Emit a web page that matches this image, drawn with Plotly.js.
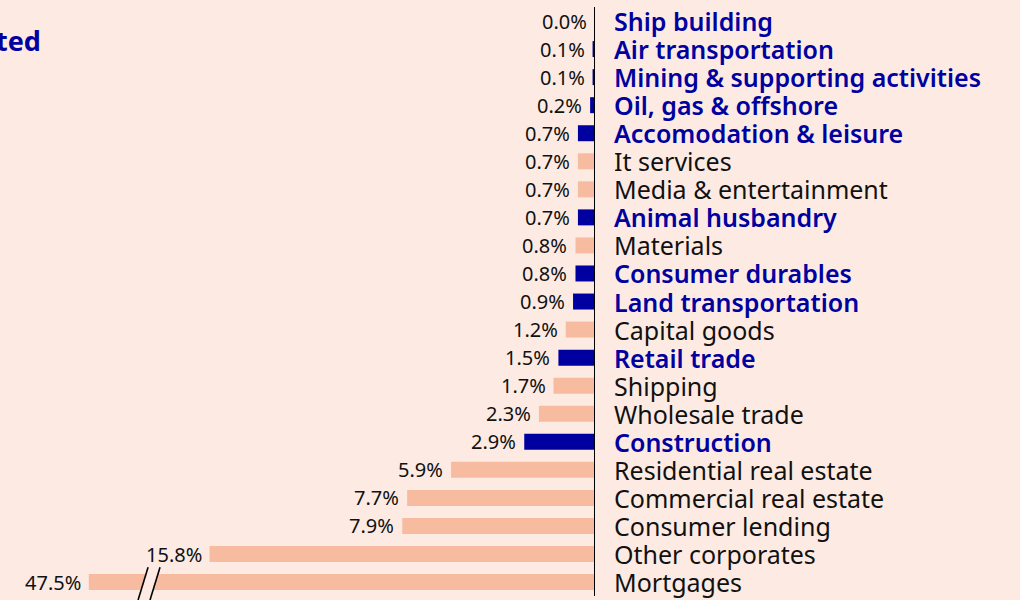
<!DOCTYPE html>
<html>
<head>
<meta charset="utf-8">
<script src="https://cdn.plot.ly/plotly-3.0.1.min.js"></script>
<style>html,body{margin:0;padding:0;background:#fdebe3;}</style>
</head>
<body>
<div id="chart" style="width:1020px;height:600px;"></div>
<script>
const categories = ["Ship building","Air transportation","Mining & supporting activities","Oil, gas & offshore","Accomodation & leisure","It services","Media & entertainment","Animal husbandry","Materials","Consumer durables","Land transportation","Capital goods","Retail trade","Shipping","Wholesale trade","Construction","Residential real estate","Commercial real estate","Consumer lending","Other corporates","Mortgages"];
const values = [0.0,0.1,0.1,0.2,0.7,0.7,0.7,0.7,0.8,0.8,0.9,1.2,1.5,1.7,2.3,2.9,5.9,7.7,7.9,15.8,47.5];
const highlighted = [true,true,true,true,true,false,false,true,false,true,true,false,true,false,false,true,false,false,false,false,false];
const valueLabels = ["0.0%","0.1%","0.1%","0.2%","0.7%","0.7%","0.7%","0.7%","0.8%","0.8%","0.9%","1.2%","1.5%","1.7%","2.3%","2.9%","5.9%","7.7%","7.9%","15.8%","47.5%"];
const titleText = "ted";
const breakCap = 20.75; // bars longer than this are drawn truncated with a break mark

const BG = "#fdebe3", SALMON = "#f7bb9f", BLUE = "#0000a0";
const FONT = "Noto Sans, sans-serif";
const shown = values.map(v => Math.min(v, breakCap));
const ys = categories.map((c, i) => i);

const trace = {
  type: "bar", orientation: "h",
  x: shown, y: ys, width: 0.57,
  marker: {color: highlighted.map(h => h ? BLUE : SALMON)},
  hoverinfo: "skip"
};

const annotations = [];
categories.forEach((c, i) => {
  annotations.push({
    x: 0, y: i, xref: "x", yref: "y", text: c,
    xanchor: "left", yanchor: "middle", xshift: 17, showarrow: false,
    font: {family: FONT, size: 25, weight: highlighted[i] ? 600 : 400, color: highlighted[i] ? BLUE : "#111111"}
  });
  annotations.push({
    x: shown[i], y: i, xref: "x", yref: "y", text: valueLabels[i],
    xanchor: "right", yanchor: "middle", xshift: -6, showarrow: false,
    font: {family: FONT, size: 20, color: "#111111"}
  });
});
annotations.push({
  x: 43/595, y: 0.944, xref: "paper", yref: "paper", text: titleText,
  xanchor: "right", yanchor: "middle", showarrow: false,
  font: {family: FONT, size: 27, weight: 700, color: BLUE}
});

const shapes = [];
values.forEach((v, i) => {
  if (v > breakCap) {
    const x1 = 18.73, x2 = 18.32, gap = 0.49;
    shapes.push({type: "path", xref: "x", yref: "y",
      path: `M${x1},${i+0.64} L${x2},${i-0.53} L${x2-gap},${i-0.53} L${x1-gap},${i+0.64} Z`,
      fillcolor: BG, line: {width: 0}});
    shapes.push({type: "line", xref: "x", yref: "y", x0: x1, y0: i+0.64, x1: x2, y1: i-0.53, line: {color: "#000", width: 1.6}});
    shapes.push({type: "line", xref: "x", yref: "y", x0: x1-gap, y0: i+0.64, x1: x2-gap, y1: i-0.53, line: {color: "#000", width: 1.6}});
  }
});
shapes.push({type: "line", xref: "x", yref: "y", x0: 0, x1: 0, y0: -0.5, y1: categories.length - 0.5,
  line: {color: "#000", width: 2}});

const layout = {
  width: 1020, height: 600,
  margin: {l: 0, r: 425, t: 7, b: 0},
  paper_bgcolor: BG, plot_bgcolor: BG,
  showlegend: false,
  xaxis: {range: [24.39, 0], showgrid: false, zeroline: false, showticklabels: false, showline: false, fixedrange: true},
  yaxis: {range: [20.64, -0.5], showgrid: false, zeroline: false, showticklabels: false, showline: false, fixedrange: true},
  annotations: annotations,
  shapes: shapes
};

Plotly.newPlot("chart", [trace], layout, {displayModeBar: false, staticPlot: true});
</script>
</body>
</html>
